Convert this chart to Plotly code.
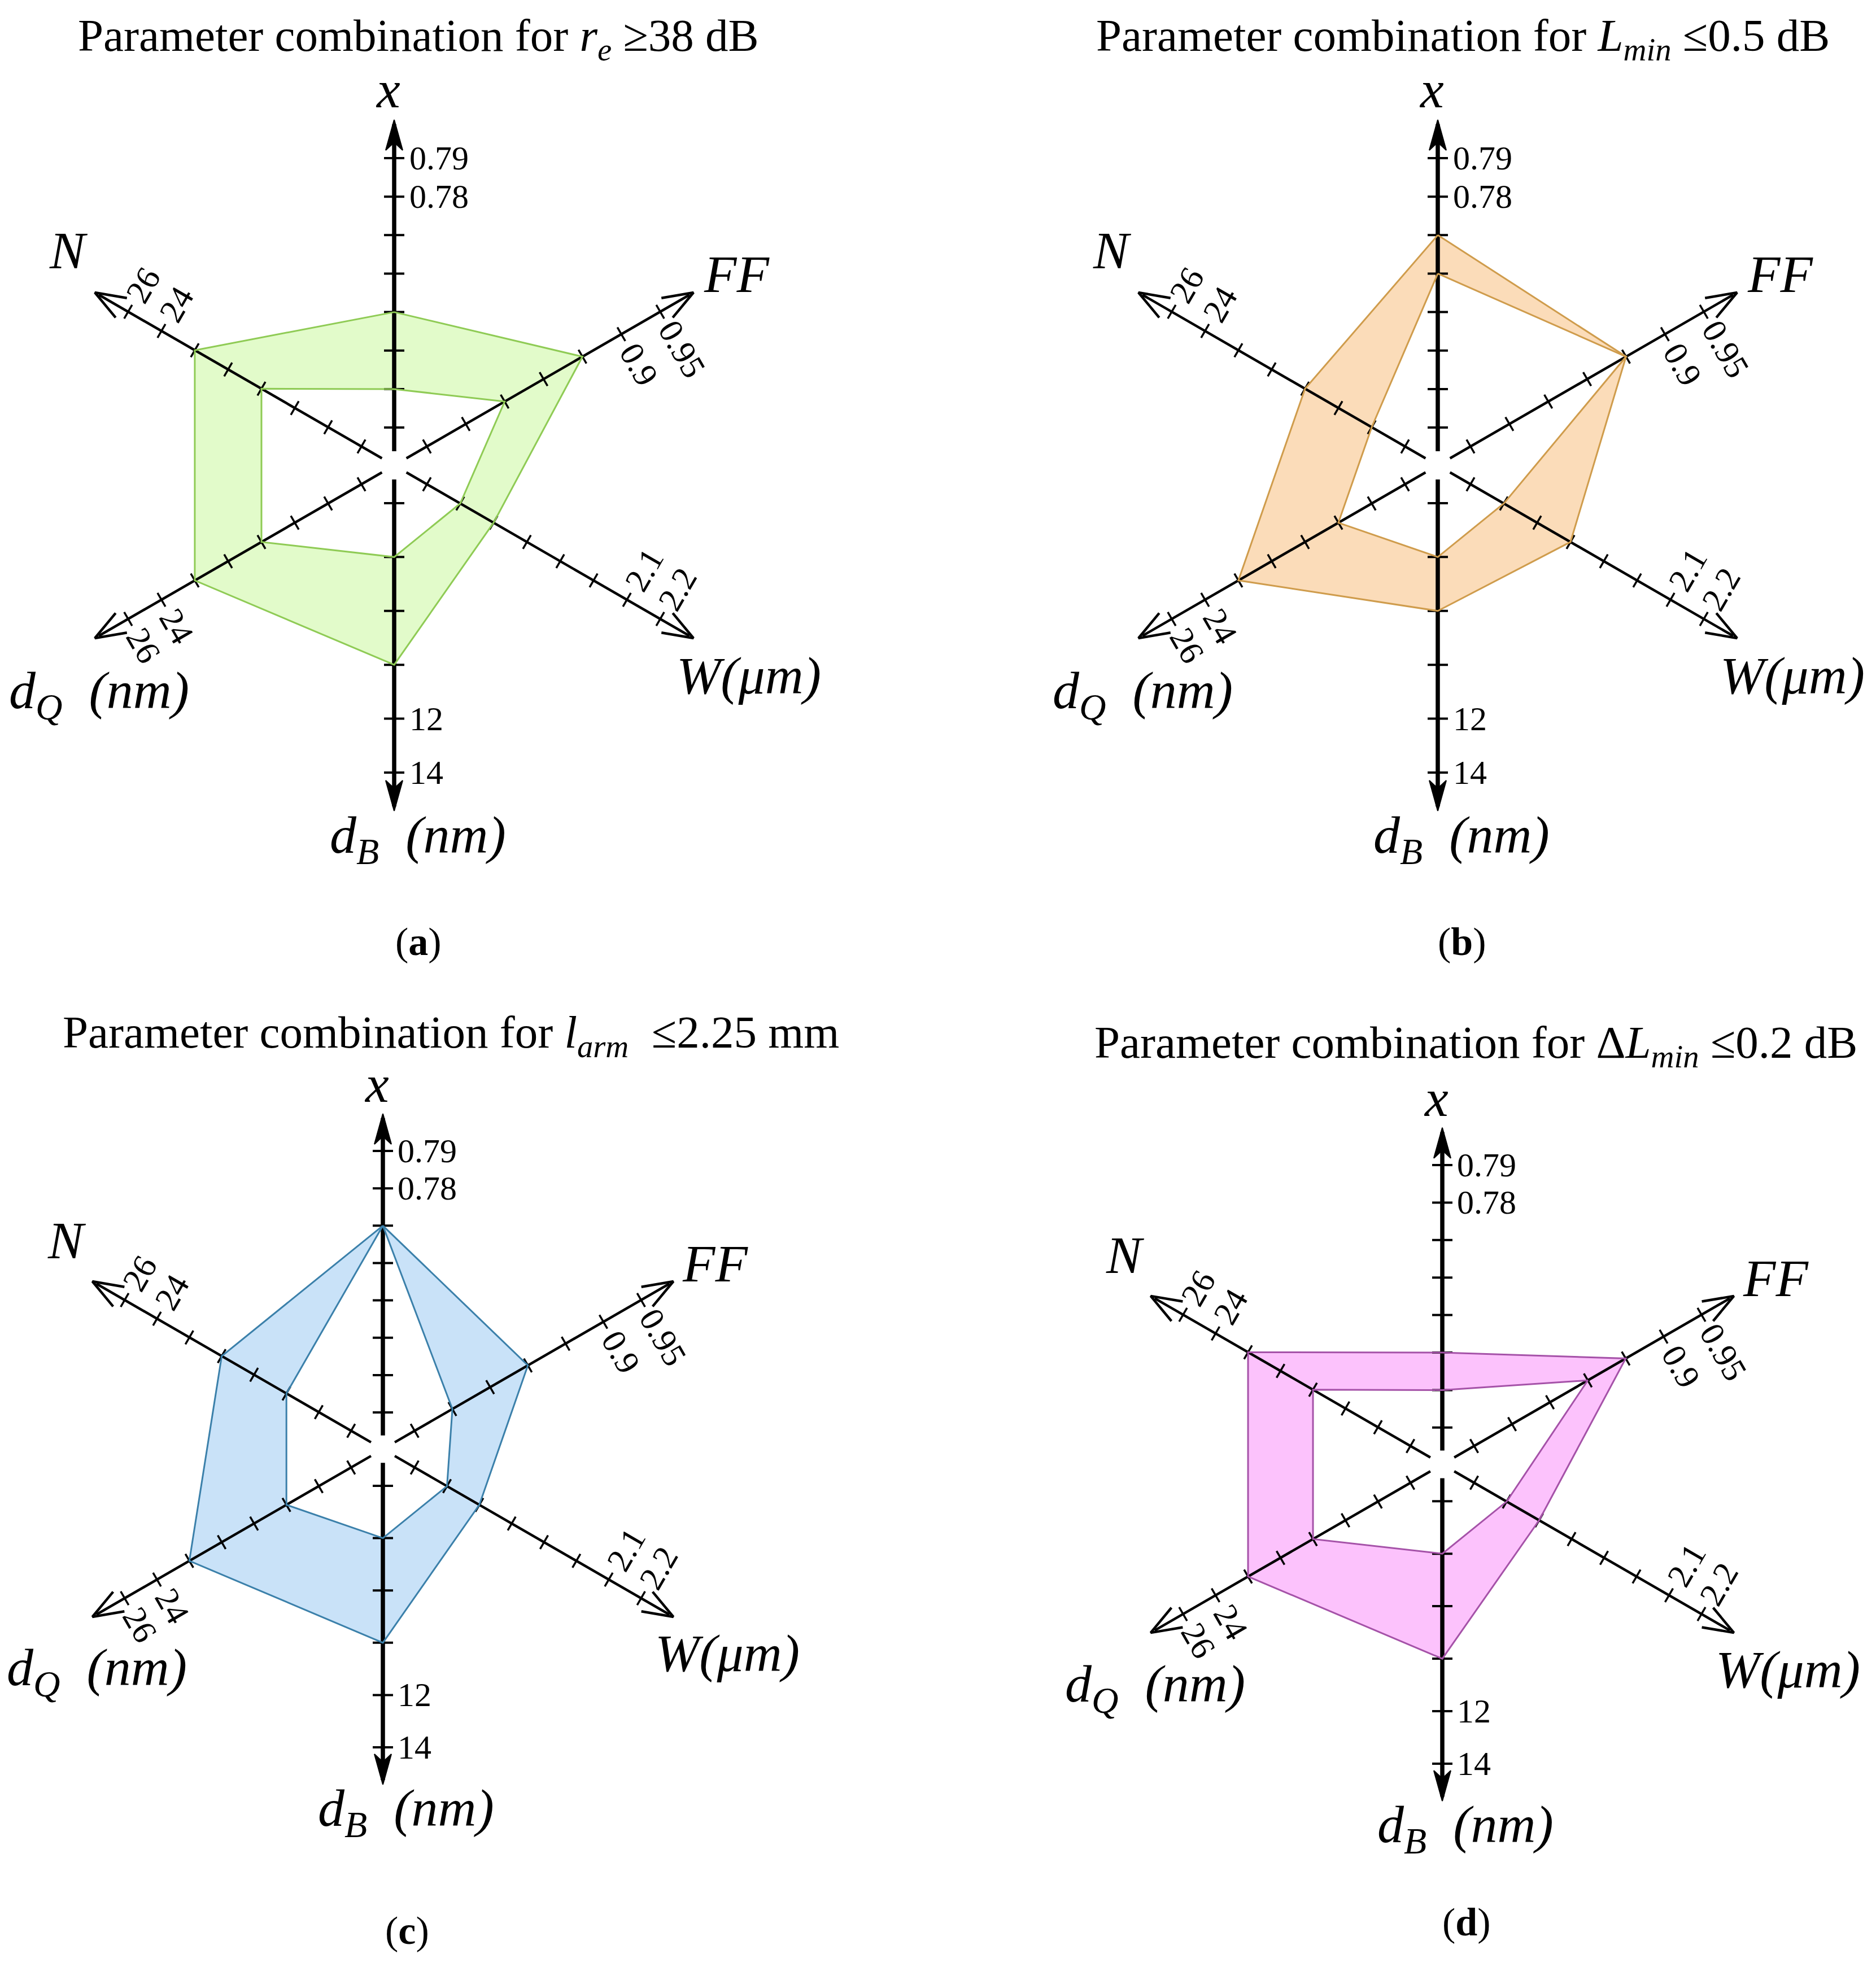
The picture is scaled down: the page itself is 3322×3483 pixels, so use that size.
import numpy as np
import plotly.graph_objects as go

# canvas in pixels (1 data unit = 1 px)
FIG_W, FIG_H = 3322, 3483

# spokes, clockwise from the top: x, FF, W, dB, dQ, N
axis_angles = [90, 30, -30, -90, 210, 150]

# tick values for each spoke
x_ticks = [0.72, 0.73, 0.74, 0.75, 0.76, 0.77, 0.78, 0.79]
ff_ticks = [0.65, 0.70, 0.75, 0.80, 0.85, 0.90, 0.95]
w_ticks = [1.5, 1.6, 1.7, 1.8, 1.9, 2.0, 2.1, 2.2]
db_ticks = [4, 6, 8, 10, 12, 14]
dq_ticks = [12, 14, 16, 18, 20, 22, 24, 26]
n_ticks = [12, 14, 16, 18, 20, 22, 24, 26]

# only the last two ticks carry a label
x_labels = ["0.78", "0.79"]
ff_labels = ["0.9", "0.95"]
w_labels = ["2.1", "2.2"]
db_labels = ["12", "14"]
dq_labels = ["24", "26"]
n_labels = ["24", "26"]

axis_titles = ["<i>x</i>", "<i>FF</i>", "<i>W(μm)</i>",
               "<i>d<sub>B</sub>\u00a0\u00a0(nm)</i>",
               "<i>d<sub>Q</sub>\u00a0\u00a0(nm)</i>", "<i>N</i>"]

# parameter ranges (order: x, FF, W, dB, dQ, N)
a_outer = [0.75, 0.85, 1.7, 10, 22, 22]
a_inner = [0.73, 0.75, 1.6, 6, 18, 18]
b_outer = [0.77, 0.85, 1.8, 8, 22, 18]
b_inner = [0.76, 0.85, 1.6, 6, 16, 14]
c_outer = [0.77, 0.80, 1.7, 10, 22, 20]
c_inner = [0.77, 0.70, 1.6, 6, 16, 16]
d_outer = [0.74, 0.85, 1.7, 10, 22, 22]
d_inner = [0.73, 0.80, 1.6, 6, 18, 18]

all_ticks = [x_ticks, ff_ticks, w_ticks, db_ticks, dq_ticks, n_ticks]
all_labels = [x_labels, ff_labels, w_labels, db_labels, dq_labels, n_labels]

panels = [
    dict(title="Parameter combination for <i>r<sub>e</sub></i> ≥38 dB",
         tag="(<b>a</b>)", center=(690, 816), R=544, title_y=60, tag_y=1659,
         title_x=733, outer=a_outer, inner=a_inner,
         fill="#E2FBCA", line="#8FCB55"),
    dict(title="Parameter combination for <i>L<sub>min</sub></i> ≤0.5 dB",
         tag="(<b>b</b>)", center=(2538, 816), R=544, title_y=60, tag_y=1659,
         title_x=2582, outer=b_outer, inner=b_inner,
         fill="#FBDCB9", line="#CF9C4C"),
    dict(title="Parameter combination for <i>l<sub>arm</sub></i>\u00a0 ≤2.25 mm",
         tag="(<b>c</b>)", center=(670, 2558), R=528, title_y=1825, tag_y=3410,
         title_x=790, outer=c_outer, inner=c_inner,
         fill="#C9E2F8", line="#3B80AA"),
    dict(title="Parameter combination for Δ<i>L<sub>min</sub></i> ≤0.2 dB",
         tag="(<b>d</b>)", center=(2546, 2585), R=530, title_y=1843, tag_y=3395,
         title_x=2605, outer=d_outer, inner=d_inner,
         fill="#FCC2FC", line="#A552A8"),
]

R0 = 0.123        # first tick as a fraction of the last tick radius
R_GAP = 0.046     # empty hole in the middle
R_TIP = 1.125     # arrow tip

# spoke title offsets in units of R (x right, y up)
title_offsets = [(-0.02, 1.225), (1.115, 0.623), (1.155, -0.684),
                 (0.078, -1.215), (-0.96, -0.745), (-1.06, 0.70)]

FONT = "Liberation Serif, Times New Roman, serif"


def radius(v, ticks, R):
    lo, hi = ticks[0], ticks[-1]
    return R * (R0 + (1 - R0) * (v - lo) / (hi - lo))


def point(center, r, ang):
    a = np.radians(ang)
    return center[0] + r * np.cos(a), center[1] - r * np.sin(a)


def polygon(vals, center, R):
    xs, ys = [], []
    for v, t, ang in zip(vals, all_ticks, axis_angles):
        px, py = point(center, radius(v, t, R), ang)
        xs.append(px)
        ys.append(py)
    return xs + [xs[0]], ys + [ys[0]]


def text_width(s, size):
    return sum(0.25 if ch == "." else 0.5 for ch in s) * size


fig = go.Figure()
annotations = []
TICK_SIZE = 60

for p in panels:
    c, R = p["center"], p["R"]

    ox, oy = polygon(p["outer"], c, R)
    ix, iy = polygon(p["inner"], c, R)
    fig.add_trace(go.Scatter(x=ox, y=oy, fill="toself", fillcolor=p["fill"],
                             mode="lines", line=dict(width=0), hoverinfo="skip"))
    fig.add_trace(go.Scatter(x=ix, y=iy, fill="toself", fillcolor="white",
                             mode="lines", line=dict(width=0), hoverinfo="skip"))

    for k, (ang, ticks, labels) in enumerate(zip(axis_angles, all_ticks, all_labels)):
        vertical = ang in (90, -90)
        a = np.radians(ang)
        d = np.array([np.cos(a), -np.sin(a)])       # screen direction
        n = np.array([-d[1], d[0]])                  # screen normal
        cc = np.array(c, dtype=float)

        # spoke
        s0 = cc + d * R * R_GAP
        tip = cc + d * R * R_TIP
        fig.add_trace(go.Scatter(x=[s0[0], tip[0] - d[0] * 8], y=[s0[1], tip[1] - d[1] * 8],
                                 mode="lines", line=dict(color="black", width=7.5 if vertical else 4.5),
                                 hoverinfo="skip"))

        # arrow head
        if vertical:
            b1 = tip - d * 54 + n * 15
            b2 = tip - d * 54 - n * 15
            nt = tip - d * 40
            fig.add_trace(go.Scatter(x=[tip[0], b1[0], nt[0], b2[0], tip[0]],
                                     y=[tip[1], b1[1], nt[1], b2[1], tip[1]],
                                     fill="toself", fillcolor="black", mode="lines",
                                     line=dict(color="black", width=2), hoverinfo="skip"))
        else:
            b1 = tip - d * 54 + n * 20
            b2 = tip - d * 54 - n * 20
            fig.add_trace(go.Scatter(x=[b1[0], tip[0], b2[0]], y=[b1[1], tip[1], b2[1]],
                                     mode="lines", line=dict(color="black", width=4.5),
                                     hoverinfo="skip"))

        # ticks
        half = 18 if vertical else 14
        tx, ty = [], []
        for v in ticks:
            q = cc + d * radius(v, ticks, R)
            tx += [q[0] - n[0] * half, q[0] + n[0] * half, None]
            ty += [q[1] - n[1] * half, q[1] + n[1] * half, None]
        fig.add_trace(go.Scatter(x=tx, y=ty, mode="lines",
                                 line=dict(color="black", width=4 if vertical else 3.5),
                                 hoverinfo="skip"))

        # tick labels on the last two ticks
        for lab, v in zip(labels, ticks[-2:]):
            q = cc + d * radius(v, ticks, R)
            if vertical:
                annotations.append(dict(x=c[0] + 0.046 * R, y=q[1], text=lab,
                                        xanchor="left", yanchor="middle", showarrow=False,
                                        font=dict(family=FONT, size=TICK_SIZE, color="black")))
            else:
                perp = 60 if ang in (-30, 150) else -60
                pa = np.radians(perp)
                pv = np.array([np.cos(pa), -np.sin(pa)])
                off = 24 + text_width(lab, TICK_SIZE) / 2
                lp = q + pv * off
                annotations.append(dict(x=lp[0], y=lp[1], text=lab, textangle=-perp,
                                        xanchor="center", yanchor="middle", showarrow=False,
                                        font=dict(family=FONT, size=TICK_SIZE, color="black")))

        # spoke title
        ox_, oy_ = title_offsets[k]
        annotations.append(dict(x=c[0] + ox_ * R, y=c[1] - oy_ * R, text=axis_titles[k],
                                xanchor="center", yanchor="middle", showarrow=False,
                                font=dict(family=FONT, size=94, color="black")))

    # band edges on top of the spokes
    fig.add_trace(go.Scatter(x=ox, y=oy, mode="lines", line=dict(color=p["line"], width=3),
                             hoverinfo="skip"))
    fig.add_trace(go.Scatter(x=ix, y=iy, mode="lines", line=dict(color=p["line"], width=3),
                             hoverinfo="skip"))

    annotations.append(dict(x=p["title_x"], y=p["title_y"], text=p["title"],
                            xanchor="center", yanchor="middle", showarrow=False,
                            font=dict(family=FONT, size=81, color="black")))
    annotations.append(dict(x=c[0] + 43, y=p["tag_y"], text=p["tag"],
                            xanchor="center", yanchor="middle", showarrow=False,
                            font=dict(family=FONT, size=70, color="black")))

fig.update_layout(
    width=FIG_W, height=FIG_H,
    margin=dict(l=0, r=0, t=0, b=0),
    paper_bgcolor="white", plot_bgcolor="white",
    showlegend=False,
    xaxis=dict(range=[0, FIG_W], visible=False, fixedrange=True),
    yaxis=dict(range=[FIG_H, 0], visible=False, fixedrange=True),
    annotations=annotations,
)

fig.write_html("out.html")
